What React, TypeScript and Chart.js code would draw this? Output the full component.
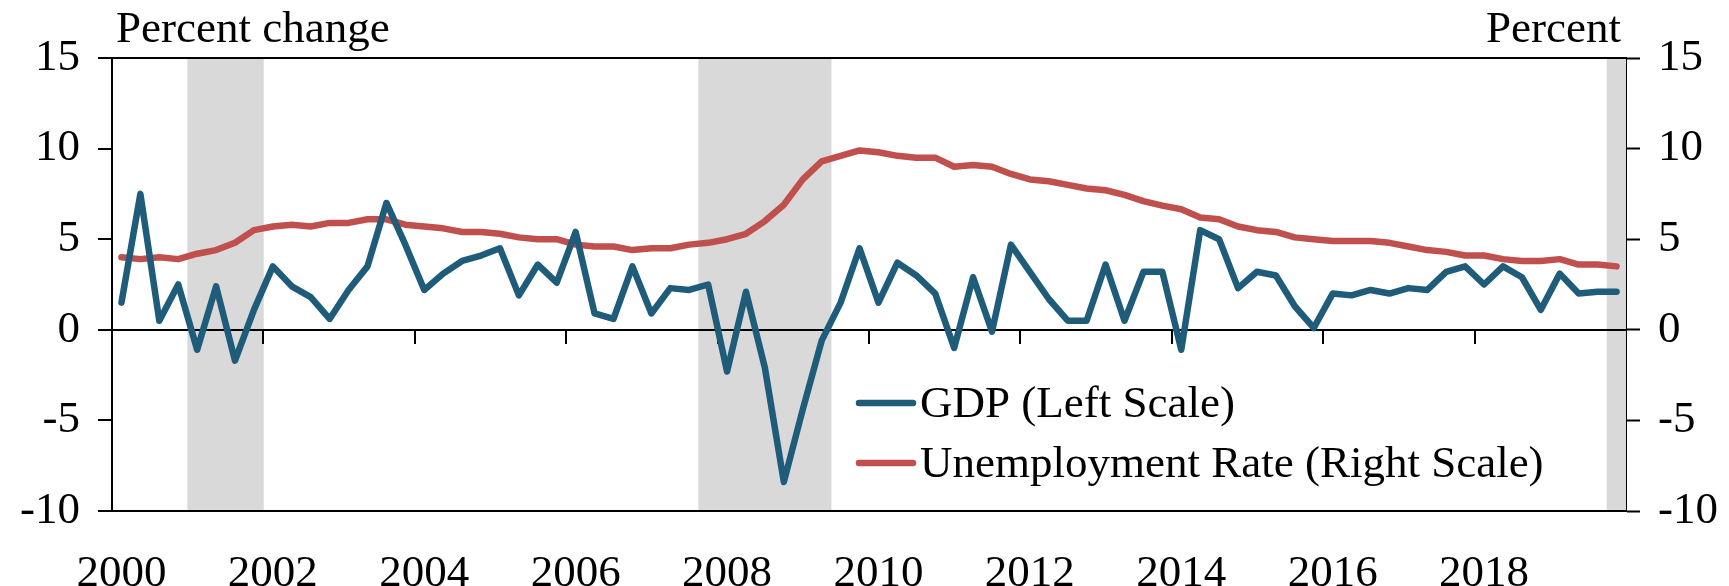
import React, { useEffect, useRef } from 'react';
import { Chart, registerables } from 'chart.js';

Chart.register(...registerables);

// ---------- data ----------
const years = [2000, 2001, 2002, 2003, 2004, 2005, 2006, 2007, 2008, 2009, 2010, 2011, 2012, 2013, 2014, 2015, 2016, 2017, 2018, 2019];
const quarterNames = ['Q1', 'Q2', 'Q3', 'Q4'];
const categories = years.flatMap((y) => quarterNames.map((q) => `${y} ${q}`));

const xTickLabels = ['2000', '2002', '2004', '2006', '2008', '2010', '2012', '2014', '2016', '2018'];

// Real GDP, percent change (annualized), quarterly 2000Q1-2019Q4
const gdp = [
  1.5, 7.5, 0.5, 2.5,
  -1.1, 2.4, -1.7, 1.1,
  3.5, 2.4, 1.8, 0.6,
  2.2, 3.5, 7.0, 4.7,
  2.2, 3.1, 3.8, 4.1,
  4.5, 1.9, 3.6, 2.6,
  5.4, 0.9, 0.6, 3.5,
  0.9, 2.3, 2.2, 2.5,
  -2.3, 2.1, -2.1, -8.4,
  -4.4, -0.6, 1.5, 4.5,
  1.5, 3.7, 3.0, 2.0,
  -1.0, 2.9, -0.1, 4.7,
  3.2, 1.7, 0.5, 0.5,
  3.6, 0.5, 3.2, 3.2,
  -1.1, 5.5, 5.0, 2.3,
  3.2, 3.0, 1.3, 0.1,
  2.0, 1.9, 2.2, 2.0,
  2.3, 2.2, 3.2, 3.5,
  2.5, 3.5, 2.9, 1.1,
  3.1, 2.0, 2.1, 2.1,
];

// Unemployment rate, percent, quarterly 2000Q1-2019Q4
const unemployment = [
  4.0, 3.9, 4.0, 3.9,
  4.2, 4.4, 4.8, 5.5,
  5.7, 5.8, 5.7, 5.9,
  5.9, 6.1, 6.1, 5.8,
  5.7, 5.6, 5.4, 5.4,
  5.3, 5.1, 5.0, 5.0,
  4.7, 4.6, 4.6, 4.4,
  4.5, 4.5, 4.7, 4.8,
  5.0, 5.3, 6.0, 6.9,
  8.3, 9.3, 9.6, 9.9,
  9.8, 9.6, 9.5, 9.5,
  9.0, 9.1, 9.0, 8.6,
  8.3, 8.2, 8.0, 7.8,
  7.7, 7.45, 7.1, 6.85,
  6.65, 6.2, 6.1, 5.7,
  5.5, 5.4, 5.1, 5.0,
  4.9, 4.9, 4.9, 4.8,
  4.6, 4.4, 4.3, 4.1,
  4.1, 3.9, 3.8, 3.8,
  3.9, 3.6, 3.6, 3.5,
];

// Recession quarters (1 = shaded)
const recession = [
  0, 0, 0, 0,
  1, 1, 1, 1,
  0, 0, 0, 0,
  0, 0, 0, 0,
  0, 0, 0, 0,
  0, 0, 0, 0,
  0, 0, 0, 0,
  0, 0, 0, 1,
  1, 1, 1, 1,
  1, 1, 0, 0,
  0, 0, 0, 0,
  0, 0, 0, 0,
  0, 0, 0, 0,
  0, 0, 0, 0,
  0, 0, 0, 0,
  0, 0, 0, 0,
  0, 0, 0, 0,
  0, 0, 0, 0,
  0, 0, 0, 0,
  0, 0, 0, 1,
];

const yTicks = [-10, -5, 0, 5, 10, 15];
const solidGridValues = [15, 0, -10];

const leftTitle = 'Percent change';
const rightTitle = 'Percent';
const gdpLabel = 'GDP (Left Scale)';
const unempLabel = 'Unemployment Rate (Right Scale)';

// ---------- styles ----------
const FONT_FAMILY = "'Liberation Serif', 'Times New Roman', serif";
const FONT_SIZE = 45;
const GDP_COLOR = '#1F5C7A';
const UNEMP_COLOR = '#C0504D';
const SHADE_COLOR = '#D9D9D9';
const LINE_WIDTH = 6.5;

function tickLabelFor(index: number): string {
  const cat = categories[index];
  if (!cat) return '';
  const [yr, q] = cat.split(' ');
  return q === 'Q1' && xTickLabels.includes(yr) ? yr : '';
}

const decorPlugin = {
  id: 'decor',
  afterDatasetDraw(chart: any, args: any) {
    if (args.meta.type !== 'bar') return;
    const ctx = chart.ctx as CanvasRenderingContext2D;
    const ys = chart.scales.y;
    const xs = chart.scales.x;
    const area = chart.chartArea;
    ctx.save();
    ctx.strokeStyle = '#000';
    ctx.lineWidth = 2;
    solidGridValues.forEach((v) => {
      const py = Math.round(ys.getPixelForValue(v));
      ctx.beginPath();
      ctx.moveTo(area.left - 14, py);
      ctx.lineTo(area.right, py);
      ctx.stroke();
    });
    const y0 = Math.round(ys.getPixelForValue(0));
    const half = (xs.getPixelForValue(1) - xs.getPixelForValue(0)) / 2;
    categories.forEach((_, i) => {
      if (!tickLabelFor(i) || i === 0) return;
      const px = Math.round(xs.getPixelForValue(i) - half);
      ctx.beginPath();
      ctx.moveTo(px, y0);
      ctx.lineTo(px, y0 + 14);
      ctx.stroke();
    });
    ctx.restore();
  },
  afterDraw(chart: any) {
    const ctx = chart.ctx as CanvasRenderingContext2D;
    const area = chart.chartArea;
    ctx.save();
    ctx.fillStyle = '#000';
    ctx.font = `${FONT_SIZE}px ${FONT_FAMILY}`;
    ctx.textBaseline = 'alphabetic';
    ctx.textAlign = 'left';
    ctx.fillText(leftTitle, area.left + 4, 42);
    ctx.textAlign = 'right';
    ctx.fillText(rightTitle, area.right - 5, 42);

    const ds = chart.data.datasets;
    const items = [ds[0], ds[1]];
    const lineX0 = 859;
    const lineX1 = 913;
    const rowsY = [403, 463];
    ctx.textAlign = 'left';
    items.forEach((d: any, i: number) => {
      ctx.strokeStyle = d.borderColor;
      ctx.lineWidth = LINE_WIDTH;
      ctx.lineCap = 'round';
      ctx.beginPath();
      ctx.moveTo(lineX0, rowsY[i]);
      ctx.lineTo(lineX1, rowsY[i]);
      ctx.stroke();
      ctx.fillStyle = '#000';
      ctx.fillText(d.label, lineX1 + 7, rowsY[i] + 14);
    });
    ctx.restore();
  },
};

export default function App() {
  const canvasRef = useRef<HTMLCanvasElement | null>(null);

  useEffect(() => {
    const canvas = canvasRef.current;
    if (!canvas) return;
    const font = { family: FONT_FAMILY, size: FONT_SIZE };
    const chart = new Chart(canvas, {
      type: 'line',
      data: {
        labels: categories,
        datasets: [
          {
            type: 'line',
            label: gdpLabel,
            data: gdp,
            yAxisID: 'y',
            borderColor: GDP_COLOR,
            backgroundColor: GDP_COLOR,
            borderWidth: LINE_WIDTH,
            pointRadius: 0,
            tension: 0,
            borderCapStyle: 'round',
            borderJoinStyle: 'round',
            order: 1,
          },
          {
            type: 'line',
            label: unempLabel,
            data: unemployment,
            yAxisID: 'y1',
            borderColor: UNEMP_COLOR,
            backgroundColor: UNEMP_COLOR,
            borderWidth: LINE_WIDTH,
            pointRadius: 0,
            tension: 0,
            borderCapStyle: 'round',
            borderJoinStyle: 'round',
            order: 2,
          },
          {
            type: 'bar',
            label: 'Recession',
            data: recession.map((r) => (r ? 1 : null)),
            yAxisID: 'yShade',
            backgroundColor: SHADE_COLOR,
            borderWidth: 0,
            barPercentage: 1,
            categoryPercentage: 1,
            order: 10,
          },
        ],
      } as any,
      options: {
        animation: false,
        responsive: false,
        devicePixelRatio: 1,
        layout: { padding: { top: 58, left: 0, right: 0, bottom: 0 } },
        plugins: {
          legend: { display: false },
          tooltip: { enabled: false },
          title: { display: false },
        },
        scales: {
          x: {
            type: 'category',
            offset: true,
            grid: { display: false, offset: true },
            border: { display: false },
            ticks: {
              autoSkip: false,
              maxRotation: 0,
              minRotation: 0,
              padding: 28,
              color: '#000',
              font,
              callback: (_v: any, index: number) => tickLabelFor(index),
            },
            afterFit: (s: any) => {
              s.height = 75;
            },
          },
          y: {
            position: 'left',
            min: yTicks[0],
            max: yTicks[yTicks.length - 1],
            afterBuildTicks: (s: any) => {
              s.ticks = yTicks.map((v) => ({ value: v }));
            },
            ticks: { color: '#000', font, padding: 18 },
            grid: {
              color: (c: any) => (c.tick && solidGridValues.includes(c.tick.value) ? '#000' : 'rgba(0,0,0,0)'),
              lineWidth: 2,
              drawTicks: true,
              tickLength: 14,
              tickColor: '#000',
              tickWidth: 2,
            },
            border: { display: true, color: '#000', width: 2 },
            afterFit: (s: any) => {
              s.width = 112;
            },
          },
          y1: {
            position: 'right',
            min: yTicks[0],
            max: yTicks[yTicks.length - 1],
            afterBuildTicks: (s: any) => {
              s.ticks = yTicks.map((v) => ({ value: v }));
            },
            ticks: { color: '#000', font, padding: 18 },
            grid: {
              drawOnChartArea: false,
              drawTicks: true,
              tickLength: 14,
              tickColor: '#000',
              tickWidth: 2,
            },
            border: { display: true, color: '#000', width: 2 },
            afterFit: (s: any) => {
              s.width = 103;
            },
          },
          yShade: {
            display: false,
            min: 0,
            max: 1,
          },
        },
      } as any,
      plugins: [decorPlugin],
    });
    return () => chart.destroy();
  }, []);

  return (
    <div style={{ position: 'absolute', left: 0, top: 0, width: 1729, height: 586, background: '#fff' }}>
      <canvas ref={canvasRef} width={1729} height={586} style={{ display: 'block' }} />
    </div>
  );
}
